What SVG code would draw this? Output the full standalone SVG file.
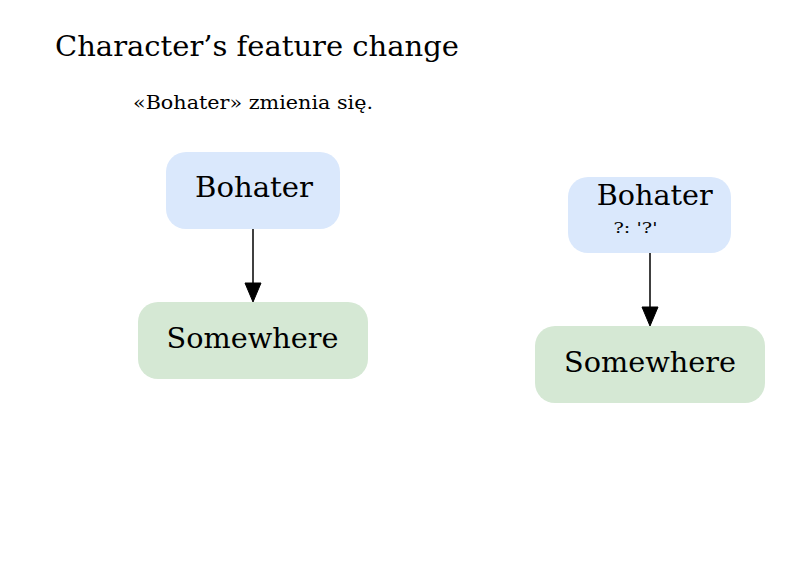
<svg xmlns="http://www.w3.org/2000/svg" width="793" height="581" viewBox="0 0 793 581">
<style>
text{font-family:"DejaVu Serif","Liberation Serif",serif;fill:#000}
.title{font-size:27.5px}
.big{font-size:27px}
.sub{font-size:18px}
.small{font-size:15.5px}
.hero{fill:#dae8fc}
.place{fill:#d5e8d4}
.edge{stroke:#000;stroke-width:1.5;fill:none}
.head{fill:#000;stroke:#000;stroke-width:1}
</style>
<rect width="793" height="581" fill="#fff"/>
<text class="title" x="55" y="56" textLength="404" lengthAdjust="spacingAndGlyphs">Character’s feature change</text>
<text class="sub" x="133" y="109" textLength="240" lengthAdjust="spacingAndGlyphs">«Bohater» zmienia się.</text>
<g id="node-bohater-left">
<rect class="hero" x="166" y="152" width="174" height="77" rx="20"/>
<text class="big" x="254" y="197" text-anchor="middle" textLength="118" lengthAdjust="spacingAndGlyphs">Bohater</text>
</g>
<g id="node-somewhere-left">
<rect class="place" x="138" y="302" width="230" height="77" rx="20"/>
<text class="big" x="252.5" y="348" text-anchor="middle" textLength="172" lengthAdjust="spacingAndGlyphs">Somewhere</text>
</g>
<g id="node-bohater-right">
<rect class="hero" x="568" y="177" width="163" height="76" rx="20"/>
<text class="big" x="654.7" y="205" text-anchor="middle" textLength="116" lengthAdjust="spacingAndGlyphs">Bohater</text>
<text class="small" x="635.5" y="233" text-anchor="middle" textLength="44" lengthAdjust="spacingAndGlyphs">?: '?'</text>
</g>
<g id="node-somewhere-right">
<rect class="place" x="535" y="326" width="230" height="77" rx="20"/>
<text class="big" x="650" y="372" text-anchor="middle" textLength="172" lengthAdjust="spacingAndGlyphs">Somewhere</text>
</g>
<g id="connectors">
<line class="edge" x1="253" y1="229" x2="253" y2="283"/>
<polygon class="head" points="245,283 261,283 253,302"/>
<line class="edge" x1="650" y1="253" x2="650" y2="307"/>
<polygon class="head" points="642,307 658,307 650,326"/>
</g>
</svg>
